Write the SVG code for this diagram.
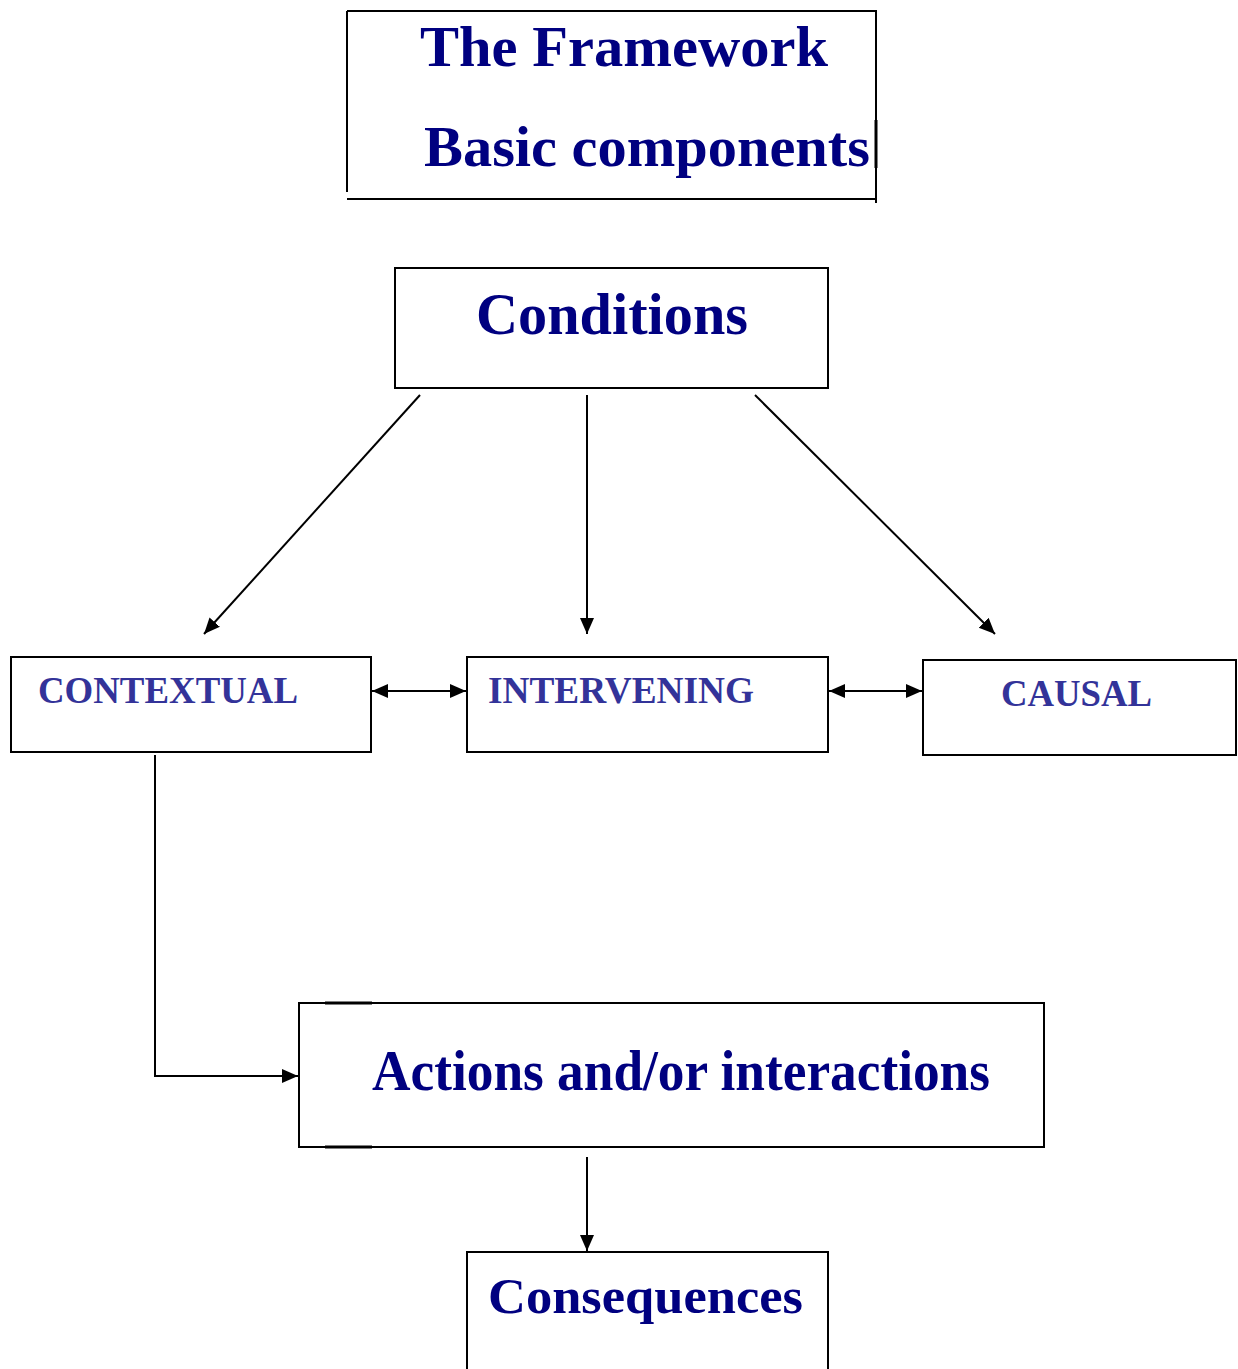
<svg xmlns="http://www.w3.org/2000/svg" width="1238" height="1369" viewBox="0 0 1238 1369">
<style>
.box{fill:#fff;stroke:#000;stroke-width:2}
.big{font-family:"Liberation Serif","Times New Roman",serif;font-weight:bold;fill:#000080}
.small{font-family:"Liberation Serif","Times New Roman",serif;font-weight:bold;fill:#333399;font-size:38px}
.conn{stroke:#000;stroke-width:2;fill:none}
</style>
<defs>
<marker id="ah" markerUnits="userSpaceOnUse" markerWidth="18" markerHeight="16" refX="16" refY="8" orient="auto-start-reverse">
<path d="M0,1 L16,8 L0,15 Z" fill="#000"/>
</marker>
</defs>
<rect width="1238" height="1369" fill="#fff"/>
<g id="title">
<path d="M347,11 H876 V203" class="conn"/>
<path d="M347,11 V192" class="conn"/>
<path d="M347,199 H876" class="conn"/>
<path d="M876,120 V168" stroke="#000" stroke-width="3"/>
<text class="big" x="420" y="66" font-size="58" textLength="408" lengthAdjust="spacingAndGlyphs">The Framework</text>
<text class="big" x="424" y="166" font-size="58" textLength="446" lengthAdjust="spacingAndGlyphs">Basic components</text>
</g>
<g id="conditions">
<rect class="box" x="395" y="268" width="433" height="120"/>
<text class="big" x="476" y="334" font-size="60" textLength="272" lengthAdjust="spacingAndGlyphs">Conditions</text>
</g>
<g id="contextual">
<rect class="box" x="11" y="657" width="360" height="95"/>
<text class="small" x="38" y="703" textLength="260" lengthAdjust="spacingAndGlyphs">CONTEXTUAL</text>
</g>
<g id="intervening">
<rect class="box" x="467" y="657" width="361" height="95"/>
<text class="small" x="488" y="703" textLength="266" lengthAdjust="spacingAndGlyphs">INTERVENING</text>
</g>
<g id="causal">
<rect class="box" x="923" y="660" width="313" height="95"/>
<text class="small" x="1001" y="706" textLength="151" lengthAdjust="spacingAndGlyphs">CAUSAL</text>
</g>
<g id="actions">
<rect class="box" x="299" y="1003" width="745" height="144"/>
<path d="M325,1003 H372 M325,1147 H372" stroke="#000" stroke-width="3"/>
<text class="big" x="372" y="1090" font-size="56" textLength="618" lengthAdjust="spacingAndGlyphs">Actions and/or interactions</text>
</g>
<g id="consequences">
<rect class="box" x="467" y="1252" width="361" height="130"/>
<text class="big" x="488" y="1313" font-size="50" textLength="315" lengthAdjust="spacingAndGlyphs">Consequences</text>
</g>
<g id="connectors">
<line class="conn" x1="420" y1="395" x2="204" y2="634" marker-end="url(#ah)"/>
<line class="conn" x1="587" y1="395" x2="587" y2="634" marker-end="url(#ah)"/>
<line class="conn" x1="755" y1="395" x2="995" y2="634" marker-end="url(#ah)"/>
<line class="conn" x1="372" y1="691" x2="466" y2="691" marker-start="url(#ah)" marker-end="url(#ah)"/>
<line class="conn" x1="829" y1="691" x2="922" y2="691" marker-start="url(#ah)" marker-end="url(#ah)"/>
<path class="conn" d="M155,755 V1076 H298" marker-end="url(#ah)"/>
<line class="conn" x1="587" y1="1157" x2="587" y2="1251" marker-end="url(#ah)"/>
</g>
</svg>
